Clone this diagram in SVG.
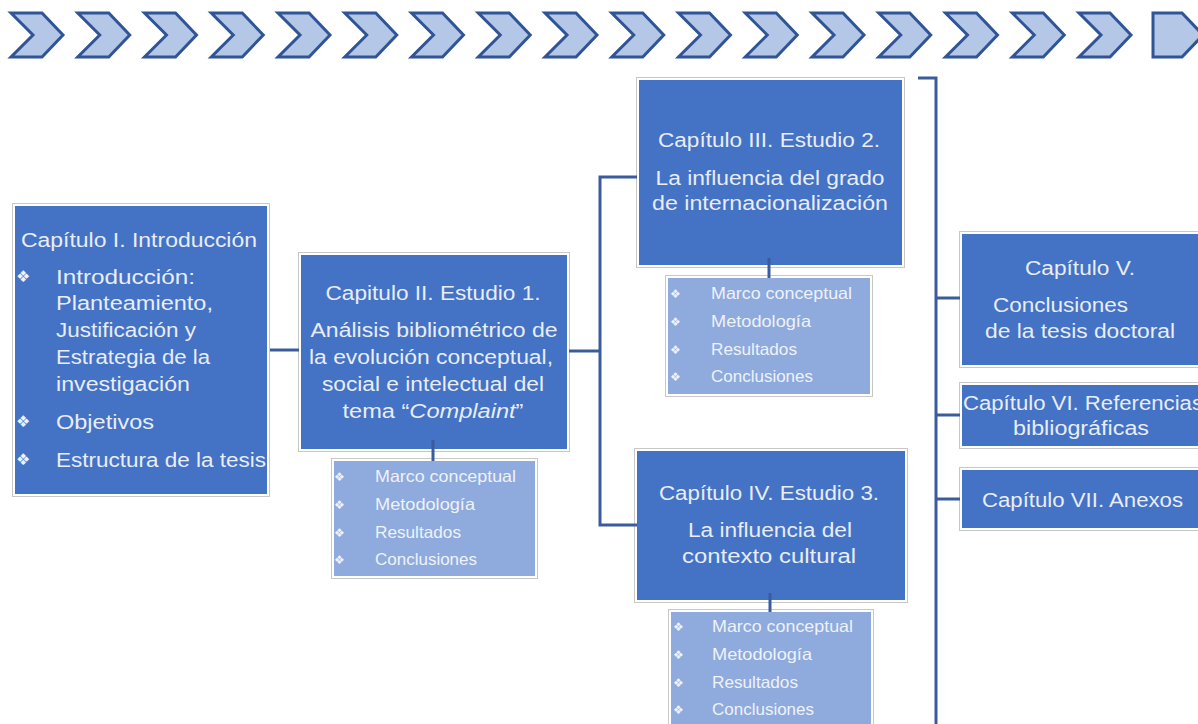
<svg xmlns="http://www.w3.org/2000/svg" xmlns:xlink="http://www.w3.org/1999/xlink" width="1198" height="724" viewBox="0 0 1198 724">
<defs>
<style>
.chev{fill:#B4C7E7;stroke:#2F5597;stroke-width:3;stroke-linejoin:miter}
.outer{fill:#FFFFFF;stroke:#C8C8C8;stroke-width:1}
.box{fill:#4472C4}
.sub{fill:#8FAADC}
.h{font-family:"Liberation Sans",Arial,sans-serif;font-size:20px;fill:#E8EDF7}
.s{font-family:"Liberation Sans",Arial,sans-serif;font-size:16.5px;fill:#EEF2FA}
.b{font-family:"DejaVu Sans",sans-serif;font-size:16px;fill:#EEF2FA}
.bs{font-family:"DejaVu Sans",sans-serif;font-size:12px;fill:#EEF2FA}
.c{text-anchor:middle}
.conn{fill:none;stroke:#3A5C9C;stroke-width:3}
</style>
<path id="chev" d="M0,0 H31 L52,22 L31,44 H0 L22,22 Z"/>
</defs>
<rect width="1198" height="724" fill="#FFFFFF"/>

<g id="chevrons">
<use xlink:href="#chev" class="chev" x="11" y="13"/>
<use xlink:href="#chev" class="chev" x="77.75" y="13"/>
<use xlink:href="#chev" class="chev" x="144.5" y="13"/>
<use xlink:href="#chev" class="chev" x="211.25" y="13"/>
<use xlink:href="#chev" class="chev" x="278" y="13"/>
<use xlink:href="#chev" class="chev" x="344.75" y="13"/>
<use xlink:href="#chev" class="chev" x="411.5" y="13"/>
<use xlink:href="#chev" class="chev" x="478.25" y="13"/>
<use xlink:href="#chev" class="chev" x="545" y="13"/>
<use xlink:href="#chev" class="chev" x="611.75" y="13"/>
<use xlink:href="#chev" class="chev" x="678.5" y="13"/>
<use xlink:href="#chev" class="chev" x="745.25" y="13"/>
<use xlink:href="#chev" class="chev" x="812" y="13"/>
<use xlink:href="#chev" class="chev" x="878.75" y="13"/>
<use xlink:href="#chev" class="chev" x="945.5" y="13"/>
<use xlink:href="#chev" class="chev" x="1012.25" y="13"/>
<use xlink:href="#chev" class="chev" x="1079" y="13"/>
<path class="chev" d="M1153,13 H1182 L1203,35 L1182,57 H1153 Z"/>
</g>

<g id="cap1">
<rect class="outer" x="12.5" y="203.5" width="257" height="293"/>
<rect class="box" x="15" y="206" width="252" height="288"/>
<text class="h" x="21" y="247" textLength="236" lengthAdjust="spacingAndGlyphs">Capítulo I. Introducción</text>
<text class="b" x="16" y="282">❖</text>
<text class="h" x="56" y="284" textLength="139" lengthAdjust="spacingAndGlyphs">Introducción:</text>
<text class="h" x="56" y="310" textLength="157" lengthAdjust="spacingAndGlyphs">Planteamiento,</text>
<text class="h" x="56" y="337" textLength="140" lengthAdjust="spacingAndGlyphs">Justificación y</text>
<text class="h" x="56" y="364" textLength="154" lengthAdjust="spacingAndGlyphs">Estrategia de la</text>
<text class="h" x="56" y="391" textLength="134" lengthAdjust="spacingAndGlyphs">investigación</text>
<text class="b" x="16" y="427">❖</text>
<text class="h" x="56" y="429" textLength="98" lengthAdjust="spacingAndGlyphs">Objetivos</text>
<text class="b" x="16" y="465">❖</text>
<text class="h" x="56" y="467" textLength="210" lengthAdjust="spacingAndGlyphs">Estructura de la tesis</text>
</g>

<g id="cap2">
<rect class="outer" x="298.5" y="252.5" width="271" height="199"/>
<rect class="box" x="301" y="255" width="266" height="194"/>
<text class="h c" x="433" y="300" textLength="215" lengthAdjust="spacingAndGlyphs">Capitulo II. Estudio 1.</text>
<text class="h c" x="434" y="337" textLength="247" lengthAdjust="spacingAndGlyphs">Análisis bibliométrico de</text>
<text class="h c" x="431" y="364" textLength="244" lengthAdjust="spacingAndGlyphs">la evolución conceptual,</text>
<text class="h c" x="433" y="391" textLength="222" lengthAdjust="spacingAndGlyphs">social e intelectual del</text>
<text class="h c" x="433" y="418" textLength="181" lengthAdjust="spacingAndGlyphs">tema “<tspan font-style="italic">Complaint</tspan>”</text>
</g>

<g id="cap2-sub">
<rect class="outer" x="331.5" y="458.5" width="206" height="120"/>
<rect class="sub" x="334" y="461" width="201" height="115"/>
<text class="bs" x="334" y="481">❖</text>
<text class="s" x="375" y="482" textLength="141" lengthAdjust="spacingAndGlyphs">Marco conceptual</text>
<text class="bs" x="334" y="509">❖</text>
<text class="s" x="375" y="510" textLength="100" lengthAdjust="spacingAndGlyphs">Metodología</text>
<text class="bs" x="334" y="537">❖</text>
<text class="s" x="375" y="538" textLength="86" lengthAdjust="spacingAndGlyphs">Resultados</text>
<text class="bs" x="334" y="564">❖</text>
<text class="s" x="375" y="565" textLength="102" lengthAdjust="spacingAndGlyphs">Conclusiones</text>
</g>

<g id="cap3">
<rect class="outer" x="636.5" y="77.5" width="268" height="190"/>
<rect class="box" x="639" y="80" width="263" height="185"/>
<text class="h c" x="769" y="147" textLength="222" lengthAdjust="spacingAndGlyphs">Capítulo III. Estudio 2.</text>
<text class="h c" x="770" y="185" textLength="229" lengthAdjust="spacingAndGlyphs">La influencia del grado</text>
<text class="h c" x="770" y="210" textLength="236" lengthAdjust="spacingAndGlyphs">de internacionalización</text>
</g>

<g id="cap3-sub">
<rect class="outer" x="665.5" y="275.5" width="207" height="121"/>
<rect class="sub" x="668" y="278" width="202" height="116"/>
<text class="bs" x="670" y="298">❖</text>
<text class="s" x="711" y="299" textLength="141" lengthAdjust="spacingAndGlyphs">Marco conceptual</text>
<text class="bs" x="670" y="326">❖</text>
<text class="s" x="711" y="327" textLength="100" lengthAdjust="spacingAndGlyphs">Metodología</text>
<text class="bs" x="670" y="354">❖</text>
<text class="s" x="711" y="355" textLength="86" lengthAdjust="spacingAndGlyphs">Resultados</text>
<text class="bs" x="670" y="381">❖</text>
<text class="s" x="711" y="382" textLength="102" lengthAdjust="spacingAndGlyphs">Conclusiones</text>
</g>

<g id="cap4">
<rect class="outer" x="634.5" y="448.5" width="273" height="154"/>
<rect class="box" x="637" y="451" width="268" height="149"/>
<text class="h c" x="769" y="500" textLength="220" lengthAdjust="spacingAndGlyphs">Capítulo IV. Estudio 3.</text>
<text class="h c" x="770" y="537" textLength="164" lengthAdjust="spacingAndGlyphs">La influencia del</text>
<text class="h c" x="769" y="563" textLength="174" lengthAdjust="spacingAndGlyphs">contexto cultural</text>
</g>

<g id="cap4-sub">
<rect class="outer" x="668.5" y="609.5" width="205" height="130"/>
<rect class="sub" x="671" y="612" width="200" height="125"/>
<text class="bs" x="673" y="631">❖</text>
<text class="s" x="712" y="632" textLength="141" lengthAdjust="spacingAndGlyphs">Marco conceptual</text>
<text class="bs" x="673" y="659">❖</text>
<text class="s" x="712" y="660" textLength="100" lengthAdjust="spacingAndGlyphs">Metodología</text>
<text class="bs" x="673" y="687">❖</text>
<text class="s" x="712" y="688" textLength="86" lengthAdjust="spacingAndGlyphs">Resultados</text>
<text class="bs" x="673" y="714">❖</text>
<text class="s" x="712" y="715" textLength="102" lengthAdjust="spacingAndGlyphs">Conclusiones</text>
</g>

<g id="cap5">
<rect class="outer" x="959.5" y="231.5" width="260" height="136"/>
<rect class="box" x="962" y="234" width="255" height="131"/>
<text class="h c" x="1080" y="275" textLength="110" lengthAdjust="spacingAndGlyphs">Capítulo V.</text>
<text class="h" x="993" y="312" textLength="135" lengthAdjust="spacingAndGlyphs">Conclusiones</text>
<text class="h" x="985" y="338" textLength="190" lengthAdjust="spacingAndGlyphs">de la tesis doctoral</text>
</g>

<g id="cap6">
<rect class="outer" x="959.5" y="382.5" width="260" height="66"/>
<rect class="box" x="962" y="385" width="255" height="61"/>
<text class="h" x="963" y="410" textLength="240" lengthAdjust="spacingAndGlyphs">Capítulo VI. Referencias</text>
<text class="h c" x="1081" y="435" textLength="136" lengthAdjust="spacingAndGlyphs">bibliográficas</text>
</g>

<g id="cap7">
<rect class="outer" x="959.5" y="467.5" width="260" height="63"/>
<rect class="box" x="962" y="470" width="255" height="58"/>
<text class="h" x="982" y="507" textLength="201" lengthAdjust="spacingAndGlyphs">Capítulo VII. Anexos</text>
</g>

<g id="connectors">
<path class="conn" d="M270,350 H299"/>
<path class="conn" d="M569,351 H600" stroke-width="5"/>
<path class="conn" d="M637,177 H600 V525 H637"/>
<path class="conn" d="M433,440 V461"/>
<path class="conn" d="M769,258 V278"/>
<path class="conn" d="M770,593 V612"/>
<path class="conn" d="M918,78 H936 V724"/>
<path class="conn" d="M936,298 H960"/>
<path class="conn" d="M936,415 H960"/>
<path class="conn" d="M936,499 H960"/>
</g>
</svg>
